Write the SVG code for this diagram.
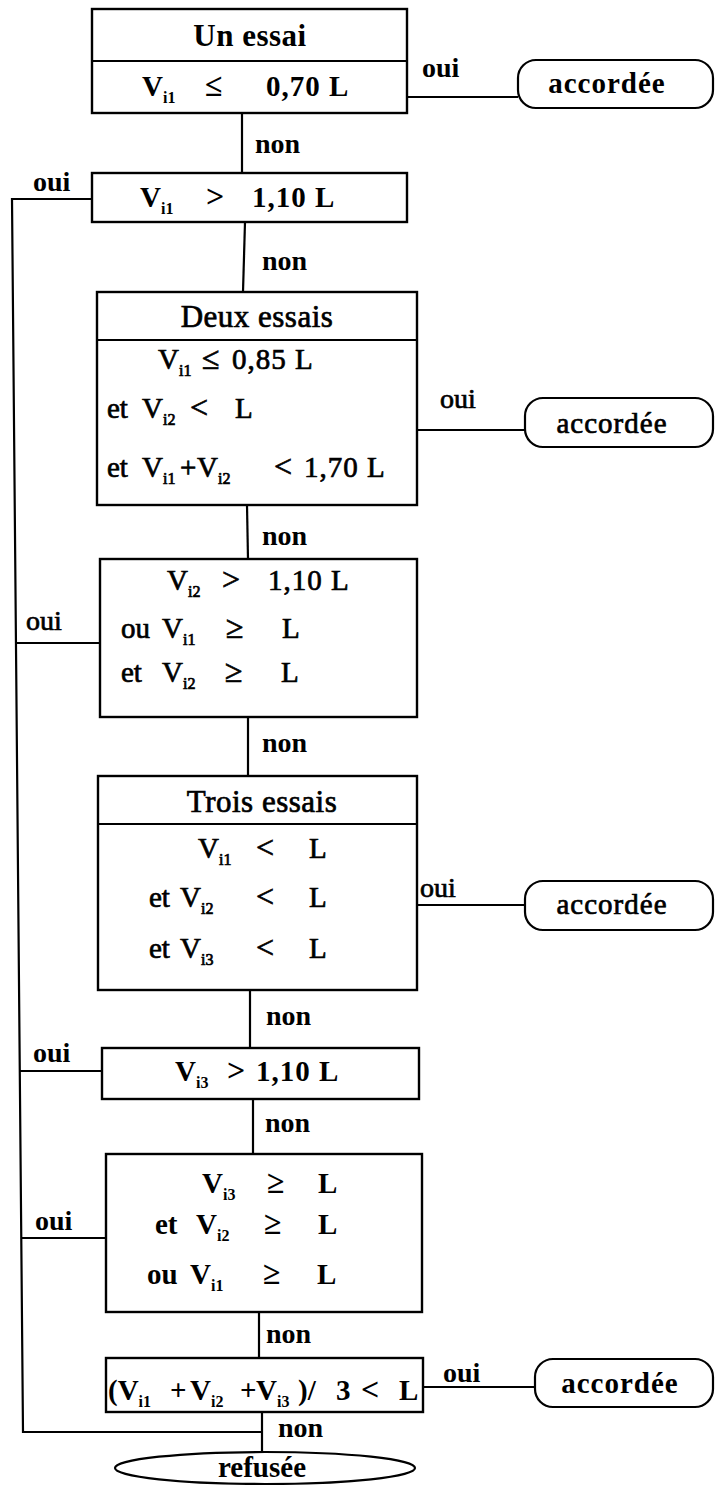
<svg xmlns="http://www.w3.org/2000/svg" width="716" height="1485" viewBox="0 0 716 1485">
<style>
.t{font-family:"Liberation Serif","Times New Roman",serif;font-size:29px;font-weight:bold;fill:#000}
.r{font-weight:normal;stroke:#000;stroke-width:0.7}
.h{font-size:31px;letter-spacing:0.5px}
.l{font-size:28px}
.a{font-size:29px;letter-spacing:1px}
.m{text-anchor:middle}
.s{font-size:16px;letter-spacing:0}
.o{font-size:32px}
.n{letter-spacing:1px}
.box{fill:#fff;stroke:#000;stroke-width:2.4}
.term{fill:#fff;stroke:#000;stroke-width:2.2}
.c{fill:none;stroke:#000;stroke-width:2.2}
</style>
<rect width="716" height="1485" fill="#fff"/>
<g id="connectors">
  <line class="c" x1="407" y1="97" x2="518" y2="97"/>
  <line class="c" x1="242" y1="113" x2="242" y2="173"/>
  <polyline class="c" points="92,199 12,199 23,1432 262,1432"/>
  <line class="c" x1="245" y1="222" x2="243" y2="292"/>
  <line class="c" x1="417" y1="430" x2="525" y2="430"/>
  <line class="c" x1="247" y1="505" x2="248" y2="559"/>
  <line class="c" x1="100" y1="643" x2="16" y2="643"/>
  <line class="c" x1="248" y1="717" x2="248" y2="776"/>
  <line class="c" x1="417" y1="905" x2="525" y2="905"/>
  <line class="c" x1="250" y1="990" x2="250" y2="1048"/>
  <line class="c" x1="102" y1="1071" x2="20" y2="1071"/>
  <line class="c" x1="253" y1="1099" x2="253" y2="1154"/>
  <line class="c" x1="106" y1="1238" x2="21" y2="1238"/>
  <line class="c" x1="259" y1="1312" x2="259" y2="1358"/>
  <line class="c" x1="423" y1="1387" x2="535" y2="1387"/>
  <line class="c" x1="262" y1="1412" x2="262" y2="1452"/>
  <text class="t l" x="422" y="77">oui</text>
  <text class="t l" x="255" y="153">non</text>
  <text class="t l" x="33" y="191">oui</text>
  <text class="t l" x="262" y="270">non</text>
  <text class="t l r" x="440" y="408">oui</text>
  <text class="t l" x="262" y="545">non</text>
  <text class="t l r" x="26" y="630">oui</text>
  <text class="t l" x="262" y="752">non</text>
  <text class="t l r" x="420" y="897">oui</text>
  <text class="t l" x="266" y="1025">non</text>
  <text class="t l" x="33" y="1062">oui</text>
  <text class="t l" x="265" y="1132">non</text>
  <text class="t l" x="35" y="1230">oui</text>
  <text class="t l" x="266" y="1343">non</text>
  <text class="t l" x="443" y="1382">oui</text>
  <text class="t l" x="278" y="1437">non</text>
</g>
<g id="n1">
  <rect class="box" x="92" y="9" width="315" height="104"/>
  <line class="c" x1="92" y1="61" x2="407" y2="61"/>
  <text class="t h m" x="250" y="46">Un essai</text>
  <text class="t" y="96"><tspan x="142">V</tspan><tspan class="s" dy="7">i1</tspan><tspan class="o" dy="-7" x="205">≤</tspan><tspan class="n" x="266">0,70 L</tspan></text>
</g>
<g id="a1">
  <rect class="term" x="518" y="60" width="195" height="48" rx="18"/>
  <text class="t a m" x="607" y="93">accordée</text>
</g>
<g id="n2">
  <rect class="box" x="92" y="173" width="315" height="49"/>
  <text class="t" y="207"><tspan x="140">V</tspan><tspan class="s" dy="7">i1</tspan><tspan class="o" dy="-7" x="206">&gt;</tspan><tspan class="n" x="252">1,10 L</tspan></text>
</g>
<g id="n3">
  <rect class="box" x="97" y="292" width="320" height="213"/>
  <line class="c" x1="97" y1="340" x2="417" y2="340"/>
  <text class="t r h m" x="257" y="327">Deux essais</text>
  <text class="t r" y="369"><tspan x="158">V</tspan><tspan class="s" dy="7">i1</tspan><tspan class="o" dy="-7" x="202">≤</tspan><tspan class="n" x="232">0,85 L</tspan></text>
  <text class="t r" y="418"><tspan x="107">et</tspan><tspan x="142">V</tspan><tspan class="s" dy="7">i2</tspan><tspan class="o" dy="-7" x="190">&lt;</tspan><tspan x="235">L</tspan></text>
  <text class="t r" y="477"><tspan x="107">et</tspan><tspan x="142">V</tspan><tspan class="s" dy="7">i1</tspan><tspan dy="-7" x="180">+</tspan><tspan x="197">V</tspan><tspan class="s" dy="7">i2</tspan><tspan class="o" dy="-7" x="274">&lt;</tspan><tspan class="n" x="304">1,70 L</tspan></text>
</g>
<g id="a2">
  <rect class="term" x="525" y="398" width="188" height="49" rx="18"/>
  <text class="t r a m" x="612" y="433">accordée</text>
</g>
<g id="n4">
  <rect class="box" x="100" y="559" width="317" height="158"/>
  <text class="t r" y="590"><tspan x="167">V</tspan><tspan class="s" dy="7">i2</tspan><tspan class="o" dy="-7" x="222">&gt;</tspan><tspan class="n" x="268">1,10 L</tspan></text>
  <text class="t r" y="638"><tspan x="121">ou</tspan><tspan x="162">V</tspan><tspan class="s" dy="7">i1</tspan><tspan class="o" dy="-7" x="226">≥</tspan><tspan x="282">L</tspan></text>
  <text class="t r" y="682"><tspan x="121">et</tspan><tspan x="162">V</tspan><tspan class="s" dy="7">i2</tspan><tspan class="o" dy="-7" x="225">≥</tspan><tspan x="281">L</tspan></text>
</g>
<g id="n5">
  <rect class="box" x="98" y="776" width="319" height="214"/>
  <line class="c" x1="98" y1="824" x2="417" y2="824"/>
  <text class="t r h m" x="262" y="812">Trois essais</text>
  <text class="t r" y="858"><tspan x="198">V</tspan><tspan class="s" dy="7">i1</tspan><tspan class="o" dy="-7" x="256">&lt;</tspan><tspan x="309">L</tspan></text>
  <text class="t r" y="907"><tspan x="149">et</tspan><tspan x="180">V</tspan><tspan class="s" dy="7">i2</tspan><tspan class="o" dy="-7" x="256">&lt;</tspan><tspan x="309">L</tspan></text>
  <text class="t r" y="958"><tspan x="149">et</tspan><tspan x="180">V</tspan><tspan class="s" dy="7">i3</tspan><tspan class="o" dy="-7" x="256">&lt;</tspan><tspan x="309">L</tspan></text>
</g>
<g id="a3">
  <rect class="term" x="525" y="881" width="188" height="49" rx="18"/>
  <text class="t r a m" x="612" y="914">accordée</text>
</g>
<g id="n6">
  <rect class="box" x="102" y="1048" width="317" height="51"/>
  <text class="t" y="1081"><tspan x="175">V</tspan><tspan class="s" dy="7">i3</tspan><tspan class="o" dy="-7" x="227">&gt;</tspan><tspan class="n" x="256">1,10 L</tspan></text>
</g>
<g id="n7">
  <rect class="box" x="106" y="1154" width="316" height="158"/>
  <text class="t" y="1193"><tspan x="202">V</tspan><tspan class="s" dy="7">i3</tspan><tspan class="o" dy="-7" x="267">≥</tspan><tspan x="318">L</tspan></text>
  <text class="t" y="1234"><tspan x="155">et</tspan><tspan x="196">V</tspan><tspan class="s" dy="7">i2</tspan><tspan class="o" dy="-7" x="264">≥</tspan><tspan x="318">L</tspan></text>
  <text class="t" y="1284"><tspan x="147">ou</tspan><tspan x="190">V</tspan><tspan class="s" dy="7">i1</tspan><tspan class="o" dy="-7" x="263">≥</tspan><tspan x="317">L</tspan></text>
</g>
<g id="n8">
  <rect class="box" x="106" y="1358" width="317" height="54"/>
  <text class="t" y="1400"><tspan x="108">(V</tspan><tspan class="s" dy="7">i1</tspan><tspan dy="-7" x="170">+</tspan><tspan x="190">V</tspan><tspan class="s" dy="7">i2</tspan><tspan dy="-7" x="240">+</tspan><tspan x="256">V</tspan><tspan class="s" dy="7">i3</tspan><tspan dy="-7" x="298">)/</tspan><tspan x="336">3</tspan><tspan class="o" x="361">&lt;</tspan><tspan x="399">L</tspan></text>
</g>
<g id="a4">
  <rect class="term" x="535" y="1359" width="178" height="48" rx="18"/>
  <text class="t a m" x="620" y="1393">accordée</text>
</g>
<g id="r1">
  <ellipse class="term" cx="265" cy="1468" rx="150" ry="16"/>
  <text class="t m" x="262" y="1477">refusée</text>
</g>
</svg>
